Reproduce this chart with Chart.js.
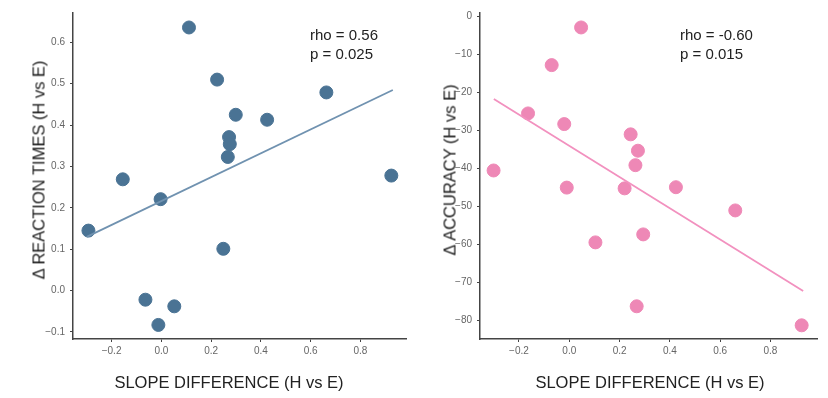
<!DOCTYPE html>
<html>
<head>
<meta charset="utf-8">
<script src="https://cdn.jsdelivr.net/npm/chart.js@4/dist/chart.umd.min.js"></script>
<style>
  body { margin: 0; background: #fff; width: 828px; height: 398px; position: relative; overflow: hidden; font-family: "Liberation Sans", Arial, sans-serif; }
  .box { position: absolute; top: 0; width: 414px; height: 398px; }
  .txt { position: absolute; color: #222; white-space: nowrap; font-weight: normal; }
  .xt { font-size: 16.5px; transform: translateX(-50%); }
  .yt { font-size: 16.5px; writing-mode: vertical-rl; transform: translate(-50%, -50%) rotate(180deg); }
  .ann { font-size: 15px; line-height: 19px; }
</style>
</head>
<body>
<div class="box" style="left:0"><canvas id="rt"></canvas></div>
<div class="box" style="left:414px"><canvas id="acc"></canvas></div>

<div class="txt xt" style="left:229px; top:373px">SLOPE DIFFERENCE (H vs E)</div>
<div class="txt xt" style="left:650px; top:373px">SLOPE DIFFERENCE (H vs E)</div>
<div class="txt yt" style="left:39px; top:170px">Δ REACTION TIMES (H vs E)</div>
<div class="txt yt" style="left:450px; top:170px">Δ ACCURACY (H vs E)</div>
<div class="txt ann" style="left:310px; top:25px">rho = 0.56<br>p = 0.025</div>
<div class="txt ann" style="left:680px; top:25px">rho = -0.60<br>p = 0.015</div>

<script>
// reaction time panel
const rtSlope = [0.111, 0.224, 0.299, 0.425, 0.663, 0.924, 0.272, 0.275, 0.267, -0.155, -0.003, -0.293, 0.249, -0.064, 0.052, -0.012];
const rtDelta = [0.636, 0.510, 0.425, 0.413, 0.479, 0.278, 0.371, 0.354, 0.323, 0.269, 0.221, 0.145, 0.101, -0.022, -0.038, -0.083];
const rtFitX = [-0.30, 0.93];
const rtFitY = [0.130, 0.485];

// accuracy panel
const accSlope = [0.047, -0.070, -0.164, -0.020, 0.244, 0.273, 0.263, -0.301, -0.010, 0.220, 0.424, 0.660, 0.294, 0.104, 0.268, 0.924];
const accDelta = [-2.9, -12.8, -25.5, -28.3, -31.0, -35.3, -39.1, -40.5, -45.0, -45.2, -44.9, -51.0, -57.3, -59.4, -76.2, -81.2];
const accFitX = [-0.30, 0.93];
const accFitY = [-21.7, -72.2];

const xTicks = [-0.2, 0.0, 0.2, 0.4, 0.6, 0.8];
const rtTicks = [-0.1, 0.0, 0.1, 0.2, 0.3, 0.4, 0.5, 0.6];
const accTicks = [-80, -70, -60, -50, -40, -30, -20, -10, 0];

const fmt = (v, d) => (v < 0 ? '\u2212' : '') + Math.abs(v).toFixed(d);

function panel(id, xs, ys, fx, fy, dotColor, lineColor, yTicks, ymin, ymax, yDec, yWidth, padRight) {
  const pts = xs.map((x, i) => ({ x: x, y: ys[i] }));
  const fit = fx.map((x, i) => ({ x: x, y: fy[i] }));
  const axisGrid = { display: true, drawOnChartArea: false, drawTicks: true, tickLength: 3, color: '#444', lineWidth: 1 };
  new Chart(document.getElementById(id), {
    type: 'scatter',
    data: {
      datasets: [
        { type: 'line', data: fit, borderColor: lineColor, borderWidth: 1.8, pointRadius: 0, fill: false },
        { data: pts, backgroundColor: dotColor, borderColor: dotColor, pointRadius: 6.5, pointHoverRadius: 6.5 }
      ]
    },
    options: {
      responsive: false,
      animation: false,
      layout: { padding: { top: 13, right: padRight, left: 0, bottom: 0 } },
      plugins: { legend: { display: false }, tooltip: { enabled: false } },
      scales: {
        x: {
          type: 'linear', min: -0.355, max: 0.985,
          afterBuildTicks: s => { s.ticks = xTicks.map(v => ({ value: v })); },
          afterFit: s => { s.height = 59; },
          grid: axisGrid,
          border: { display: true, color: '#444', width: 1.5 },
          ticks: { color: '#666', font: { family: 'Liberation Sans', size: 10 }, padding: 3, callback: v => fmt(v, 1) }
        },
        y: {
          type: 'linear', min: ymin, max: ymax,
          afterBuildTicks: s => { s.ticks = yTicks.map(v => ({ value: v })); },
          afterFit: s => { s.width = yWidth; },
          grid: axisGrid,
          border: { display: true, color: '#444', width: 1.5 },
          ticks: { color: '#666', font: { family: 'Liberation Sans', size: 10 }, padding: 5, callback: v => fmt(v, yDec) }
        }
      }
    }
  });
}

document.getElementById('rt').width = 414; document.getElementById('rt').height = 398;
document.getElementById('acc').width = 414; document.getElementById('acc').height = 398;

panel('rt', rtSlope, rtDelta, rtFitX, rtFitY, '#4a7394', '#7092b0', rtTicks, -0.117, 0.671, 1, 73, 7);
panel('acc', accSlope, accDelta, accFitX, accFitY, '#ee88b6', '#f291bf', accTicks, -84.8, 0.9, 0, 66, 11);
</script>
</body>
</html>
